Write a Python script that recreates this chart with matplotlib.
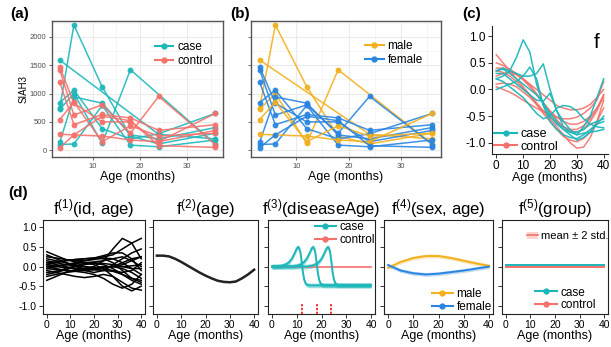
import matplotlib
matplotlib.use('Agg')
import matplotlib.pyplot as plt
from matplotlib.lines import Line2D
from matplotlib.patches import Patch
from matplotlib.ticker import MultipleLocator

plt.rcParams['font.family'] = ['Liberation Sans', 'DejaVu Sans']
plt.rcParams['mathtext.fontset'] = 'custom'
plt.rcParams['mathtext.rm'] = 'Liberation Sans'
plt.rcParams['mathtext.it'] = 'Liberation Sans:italic'

TEAL = '#1DB7BA'
RED = '#F4716C'
MALE = '#F2B01E'
FEMALE = '#2A85E0'

# ---------------- data: panels (a)/(b) ----------------
ind_group = ['case', 'case', 'case', 'case', 'case', 'case',
             'control', 'control', 'control', 'control', 'control', 'control']
ind_sex = ['male', 'male', 'male', 'female', 'female', 'female',
           'female', 'female', 'female', 'male', 'male', 'female']
ind_ages = [
    [3, 6, 12, 18, 24, 36],
    [3, 24, 36],
    [3, 6, 12, 18, 36],
    [3, 6, 12, 18, 24, 36],
    [3, 6, 12, 18, 24, 36],
    [3, 6, 12, 18, 24, 36],
    [3, 6, 12, 18, 24, 36],
    [3, 6, 12, 18, 24, 36],
    [3, 6, 12, 18, 24, 36],
    [3, 6, 12, 18, 24, 36],
    [3, 6, 12, 18, 24, 36],
    [3, 6, 12, 18, 24, 36],
]
ind_siah3 = [
    [750, 2210, 1120, 250, 110, 300],
    [1590, 280, 200],
    [720, 1000, 120, 1420, 110],
    [840, 1060, 380, 200, 290, 650],
    [140, 940, 830, 270, 200, 400],
    [100, 110, 790, 90, 60, 180],
    [1470, 830, 500, 500, 150, 350],
    [1420, 620, 800, 300, 950, 100],
    [1200, 450, 630, 570, 350, 450],
    [540, 850, 150, 430, 250, 300],
    [280, 270, 250, 180, 150, 650],
    [45, 270, 600, 520, 80, 50],
]

# ---------------- data: panel (c) ----------------
c_age = [0, 2.5, 5, 7.5, 10, 12.5, 15, 17.5, 20, 22.5, 25, 27.5, 30, 32.5, 35, 37.5, 40]
c_case = [
    [0.2, 0.25, 0.35, 0.6, 0.93, 0.7, 0.1, -0.3, -0.5, -0.65, -0.75, -0.8, -0.8, -0.75, -0.65, -0.6, -0.55],
    [0.35, 0.4, 0.35, 0.3, 0.25, 0.25, 0.3, 0.48, 0.0, -0.4, -0.6, -0.75, -0.85, -0.7, -0.5, -0.15, 0.2],
    [0.0, 0.05, 0.1, 0.15, 0.25, 0.42, 0.2, -0.3, -0.6, -0.75, -0.85, -0.9, -0.92, -0.85, -0.75, -0.65, -0.6],
    [0.3, 0.3, 0.2, 0.1, 0.0, -0.1, -0.2, -0.22, -0.07, -0.4, -0.7, -0.8, -0.85, -0.82, -0.8, -0.78, -0.75],
    [0.2, 0.15, 0.05, -0.05, -0.15, -0.3, -0.45, -0.55, -0.5, -0.35, -0.3, -0.32, -0.4, -0.55, -0.65, -0.7, -0.72],
    [0.35, 0.38, 0.3, 0.2, 0.1, 0.0, -0.1, -0.25, -0.45, -0.6, -0.75, -0.85, -0.95, -0.9, -0.8, -0.65, -0.5],
]
c_control = [
    [0.65, 0.5, 0.35, 0.2, 0.05, -0.1, -0.25, -0.4, -0.55, -0.7, -0.85, -1.0, -1.1, -1.08, -0.9, -0.6, -0.2],
    [0.5, 0.45, 0.38, 0.3, 0.2, 0.1, 0.0, -0.1, -0.2, -0.3, -0.35, -0.38, -0.38, -0.35, -0.28, -0.15, 0.0],
    [0.4, 0.4, 0.35, 0.28, 0.18, 0.05, -0.1, -0.25, -0.4, -0.52, -0.6, -0.65, -0.65, -0.6, -0.5, -0.35, -0.15],
    [0.25, 0.3, 0.32, 0.28, 0.2, 0.08, -0.08, -0.25, -0.42, -0.57, -0.7, -0.78, -0.8, -0.75, -0.6, -0.4, -0.1],
    [0.1, 0.12, 0.1, 0.05, -0.05, -0.15, -0.28, -0.4, -0.52, -0.62, -0.7, -0.75, -0.75, -0.68, -0.55, -0.35, -0.1],
    [0.05, 0.0, -0.05, -0.12, -0.2, -0.28, -0.35, -0.42, -0.48, -0.52, -0.55, -0.55, -0.52, -0.45, -0.35, -0.2, 0.15],
    [0.35, 0.32, 0.25, 0.15, 0.02, -0.12, -0.28, -0.45, -0.6, -0.75, -0.88, -0.95, -0.98, -0.92, -0.8, -0.6, -0.35],
]

# ---------------- data: panel (d) ----------------
d1_age = [0, 4, 8, 12, 16, 20, 24, 28, 32, 36, 40]
d1_curves = [
    [0.38, 0.28, 0.18, 0.12, 0.1, 0.05, -0.05, -0.25, -0.5, -0.62, -0.5],
    [-0.35, -0.25, -0.15, -0.08, -0.05, 0.0, 0.15, 0.45, 0.72, 0.6, 0.2],
    [0.0, 0.02, 0.05, 0.1, 0.15, 0.2, 0.25, 0.3, 0.45, 0.6, 0.72],
    [0.1, 0.05, 0.0, -0.05, -0.1, -0.15, -0.1, 0.05, 0.2, 0.35, 0.45],
    [-0.1, -0.15, -0.2, -0.25, -0.28, -0.25, -0.2, -0.25, -0.4, -0.55, -0.6],
    [0.25, 0.22, 0.18, 0.15, 0.15, 0.18, 0.22, 0.2, 0.1, -0.05, -0.2],
    [0.05, 0.1, 0.15, 0.18, 0.2, 0.22, 0.2, 0.1, -0.1, -0.3, -0.4],
    [-0.2, -0.15, -0.08, 0.0, 0.05, 0.08, 0.05, -0.05, -0.2, -0.3, -0.35],
    [0.15, 0.1, 0.05, 0.02, 0.0, -0.02, -0.05, -0.1, -0.15, -0.1, 0.1],
    [-0.05, 0.0, 0.05, 0.08, 0.1, 0.12, 0.15, 0.2, 0.25, 0.15, 0.0],
    [0.0, -0.05, -0.1, -0.12, -0.15, -0.2, -0.3, -0.45, -0.55, -0.45, -0.2],
    [0.2, 0.15, 0.1, 0.05, 0.0, -0.05, -0.05, 0.0, 0.05, 0.15, 0.25],
    [-0.15, -0.12, -0.05, 0.02, 0.08, 0.1, 0.08, 0.05, 0.0, -0.05, -0.05],
    [0.1, 0.12, 0.15, 0.18, 0.2, 0.22, 0.28, 0.35, 0.35, 0.2, -0.1],
    [-0.25, -0.2, -0.15, -0.12, -0.1, -0.08, -0.05, 0.0, 0.1, 0.2, 0.25],
    [0.05, 0.0, -0.03, -0.05, -0.05, -0.03, 0.0, 0.0, -0.05, -0.15, -0.3],
    [-0.05, -0.08, -0.1, -0.1, -0.08, -0.05, -0.02, 0.0, 0.0, 0.02, 0.05],
    [0.3, 0.2, 0.1, 0.0, -0.05, -0.08, -0.1, -0.12, -0.2, -0.35, -0.45],
]

d2_age = [0, 2.5, 5, 7.5, 10, 12.5, 15, 17.5, 20, 22.5, 25, 27.5, 30, 32.5, 35, 37.5, 40]
d2_mean = [0.28, 0.28, 0.26, 0.2, 0.12, 0.03, -0.06, -0.15, -0.23, -0.3, -0.36, -0.39, -0.4, -0.38, -0.3, -0.2, -0.08]

d3_onsets = [12, 18, 24]
d3_ages = [
    [0, 2, 3, 4, 5, 6, 7, 8, 9, 10, 10.5, 11, 11.5, 12, 12.5, 13, 13.5, 14, 15, 40],
    [0, 8, 9, 10, 11, 12, 13, 14, 15, 16, 16.5, 17, 17.5, 18, 18.5, 19, 19.5, 20, 21, 40],
    [0, 14, 15, 16, 17, 18, 19, 20, 21, 22, 22.5, 23, 23.5, 24, 24.5, 25, 25.5, 26, 27, 40],
]
d3_case = [
    [0, 0, 0.01, 0.02, 0.04, 0.07, 0.12, 0.2, 0.32, 0.46, 0.5, 0.47, 0.36, 0.12, -0.15, -0.33, -0.42, -0.46, -0.48, -0.48],
    [0, 0, 0.01, 0.02, 0.04, 0.07, 0.12, 0.2, 0.32, 0.46, 0.5, 0.47, 0.36, 0.12, -0.15, -0.33, -0.42, -0.46, -0.48, -0.48],
    [0, 0, 0.01, 0.02, 0.04, 0.07, 0.12, 0.2, 0.32, 0.46, 0.5, 0.47, 0.36, 0.12, -0.15, -0.33, -0.42, -0.46, -0.48, -0.48],
]
d3_std = 0.06
d3_control_age = [0, 40]
d3_control = [0, 0]

d4_age = [0, 5, 10, 15, 20, 25, 30, 35, 40]
d4_male = [-0.03, 0.12, 0.22, 0.27, 0.27, 0.22, 0.15, 0.08, 0.02]
d4_female = [0.04, -0.1, -0.17, -0.2, -0.18, -0.14, -0.1, -0.05, 0.0]
d4_std = 0.05

d5_age = [0, 40]
d5_case = [0.03, 0.03]
d5_control = [-0.02, -0.02]
d5_std = 0.025

# ---------------- figure ----------------
W, H = 611, 347
fig = plt.figure(figsize=(W / 100, H / 100), dpi=100)


def px_axes(x0, y0, x1, y1):
    return fig.add_axes([x0 / W, 1 - y1 / H, (x1 - x0) / W, (y1 - y0) / H])


def gg_style(ax):
    ax.set_facecolor('white')
    ax.set_axisbelow(True)
    ax.xaxis.set_major_locator(MultipleLocator(10))
    ax.xaxis.set_minor_locator(MultipleLocator(5))
    ax.yaxis.set_major_locator(MultipleLocator(500))
    ax.yaxis.set_minor_locator(MultipleLocator(250))
    ax.grid(which='major', color='#EBEBEB', lw=0.8)
    ax.grid(which='minor', color='#F3F3F3', lw=0.5)
    for s in ax.spines.values():
        s.set_color('#555555')
        s.set_linewidth(1.0)
    ax.tick_params(which='major', length=2.5, width=0.6, color='#555555',
                   labelsize=5.5, labelcolor='#4D4D4D', pad=1.5)
    ax.tick_params(which='minor', length=0)
    ax.set_xlim(1.35, 37.65)
    ax.set_ylim(-120, 2280)
    ax.set_xlabel('Age (months)', fontsize=9, labelpad=1)


def r_style(ax, full_box=True, ylabels=True):
    for s in ax.spines.values():
        s.set_color('#222222')
        s.set_linewidth(0.8)
    if not full_box:
        ax.spines['top'].set_visible(False)
        ax.spines['right'].set_visible(False)
    ax.set_xticks([0, 10, 20, 30, 40])
    ax.set_yticks([-1.0, -0.5, 0.0, 0.5, 1.0])
    ax.set_yticklabels(['-1.0', '-0.5', '0.0', '0.5', '1.0'])
    ax.tick_params(length=3, width=0.7, color='#333333', labelsize=7.5, pad=1.5)
    if not ylabels:
        ax.tick_params(labelleft=False)
    ax.set_xlim(-1.6, 41.6)
    ax.set_ylim(-1.21, 1.19)
    ax.set_xlabel('Age (months)', fontsize=9, labelpad=0)


# panel (a)
axa = px_axes(52, 21, 223, 157)
gg_style(axa)
for g, ages, vals in zip(ind_group, ind_ages, ind_siah3):
    col = TEAL if g == 'case' else RED
    axa.plot(ages, vals, color=col, lw=1.1, marker='o', ms=3.2, alpha=0.9)
axa.set_ylabel('SIAH3', fontsize=7, labelpad=1)
axa.legend([Line2D([], [], color=TEAL, lw=1.5, marker='o', ms=3.5),
            Line2D([], [], color=RED, lw=1.5, marker='o', ms=3.5)],
           ['case', 'control'], loc='upper left', bbox_to_anchor=(0.6, 0.85),
           frameon=False, fontsize=8.5, handlelength=1.6, handletextpad=0.3,
           labelspacing=0.15, borderaxespad=0, borderpad=0)

# panel (b)
axb = px_axes(251, 21, 441, 157)
gg_style(axb)
for s, ages, vals in zip(ind_sex, ind_ages, ind_siah3):
    col = MALE if s == 'male' else FEMALE
    axb.plot(ages, vals, color=col, lw=1.1, marker='o', ms=3.2, alpha=0.9)
axb.tick_params(labelleft=False)
axb.legend([Line2D([], [], color=MALE, lw=1.5, marker='o', ms=3.5),
            Line2D([], [], color=FEMALE, lw=1.5, marker='o', ms=3.5)],
           ['male', 'female'], loc='upper left', bbox_to_anchor=(0.6, 0.86),
           frameon=False, fontsize=8.5, handlelength=1.6, handletextpad=0.3,
           labelspacing=0.15, borderaxespad=0, borderpad=0)

# panel (c)
axc = px_axes(492, 26, 608, 154)
r_style(axc, full_box=False)
axc.tick_params(labelsize=8.5)
for y in c_control:
    axc.plot(c_age, y, color=RED, lw=1.1, alpha=0.9)
for y in c_case:
    axc.plot(c_age, y, color=TEAL, lw=1.1, alpha=0.95)
axc.text(0.9, 0.87, 'f', transform=axc.transAxes, fontsize=15, ha='center', va='center')
axc.legend([Line2D([], [], color=TEAL, lw=1.5, marker='o', ms=3.5),
            Line2D([], [], color=RED, lw=1.5, marker='o', ms=3.5)],
           ['case', 'control'], loc='lower left', bbox_to_anchor=(0.01, 0.0),
           frameon=False, fontsize=9, handlelength=1.8, handletextpad=0.3,
           labelspacing=0.05, borderaxespad=0.1, borderpad=0)

# panel (d)
d_top, d_bot = 220, 314
ax1 = px_axes(43, d_top, 145, d_bot)
ax2 = px_axes(153, d_top, 258, d_bot)
ax3 = px_axes(268, d_top, 375, d_bot)
ax4 = px_axes(384, d_top, 493, d_bot)
ax5 = px_axes(502, d_top, 608, d_bot)
r_style(ax1)
for a in (ax2, ax3, ax4, ax5):
    r_style(a, ylabels=False)

titles = ['f$^{(1)}$(id, age)', 'f$^{(2)}$(age)', 'f$^{(3)}$(diseaseAge)',
          'f$^{(4)}$(sex, age)', 'f$^{(5)}$(group)']
for a, t in zip((ax1, ax2, ax3, ax4, ax5), titles):
    a.set_title(t, fontsize=12, pad=3)

for y in d1_curves:
    ax1.plot(d1_age, y, color='black', lw=1.1)

ax2.plot(d2_age, d2_mean, color='#222222', lw=1.8)

ax3.plot(d3_control_age, d3_control, color=RED, lw=1.2)
for xs, ys in zip(d3_ages, d3_case):
    ax3.fill_between(xs, [v - d3_std for v in ys], [v + d3_std for v in ys],
                     color=TEAL, alpha=0.45, lw=0)
    ax3.plot(xs, ys, color=TEAL, lw=1.4)
for o in d3_onsets:
    ax3.plot([o, o], [-1.21, -0.93], color='red', lw=1.1, ls=(0, (1.5, 1)))
ax3.legend([Line2D([], [], color=TEAL, lw=1.5, marker='o', ms=3.5),
            Line2D([], [], color=RED, lw=1.5, marker='o', ms=3.5)],
           ['case', 'control'], loc='upper right', bbox_to_anchor=(1.0, 0.985),
           frameon=False, fontsize=8.5, handlelength=1.8, handletextpad=0.3,
           labelspacing=0.05, borderaxespad=0, borderpad=0)

for ys, col in ((d4_male, MALE), (d4_female, FEMALE)):
    ax4.fill_between(d4_age, [v - d4_std for v in ys], [v + d4_std for v in ys],
                     color=col, alpha=0.3, lw=0)
    ax4.plot(d4_age, ys, color=col, lw=1.4)
ax4.legend([Line2D([], [], color=MALE, lw=1.5, marker='o', ms=3.5),
            Line2D([], [], color=FEMALE, lw=1.5, marker='o', ms=3.5)],
           ['male', 'female'], loc='lower right', bbox_to_anchor=(1.0, 0.0),
           frameon=False, fontsize=8.5, handlelength=1.8, handletextpad=0.3,
           labelspacing=0.05, borderaxespad=0.1, borderpad=0)

for ys, col in ((d5_case, TEAL), (d5_control, RED)):
    ax5.fill_between(d5_age, [v - d5_std for v in ys], [v + d5_std for v in ys],
                     color=col, alpha=0.3, lw=0)
    ax5.plot(d5_age, ys, color=col, lw=1.4)
leg5a = ax5.legend([(Patch(color=RED, alpha=0.3, lw=0), Line2D([], [], color=RED, lw=1.2))],
                   ['mean ± 2 std.'], loc='upper right', bbox_to_anchor=(1.0, 0.88),
                   frameon=False, fontsize=8, handlelength=1.0, handletextpad=0.2,
                   borderaxespad=0, borderpad=0)
ax5.add_artist(leg5a)
ax5.legend([Line2D([], [], color=TEAL, lw=1.5, marker='o', ms=3.5),
            Line2D([], [], color=RED, lw=1.5, marker='o', ms=3.5)],
           ['case', 'control'], loc='lower center', bbox_to_anchor=(0.6, 0.03),
           frameon=False, fontsize=8.5, handlelength=1.8, handletextpad=0.3,
           labelspacing=0.05, borderaxespad=0, borderpad=0)

# panel labels
for txt, x, y in (('(a)', 10, 14), ('(b)', 230, 14), ('(c)', 462, 14), ('(d)', 8, 193)):
    fig.text(x / W, 1 - y / H, txt, fontsize=11, fontweight='bold', ha='left', va='center')

fig.savefig('out.png', dpi=100)
